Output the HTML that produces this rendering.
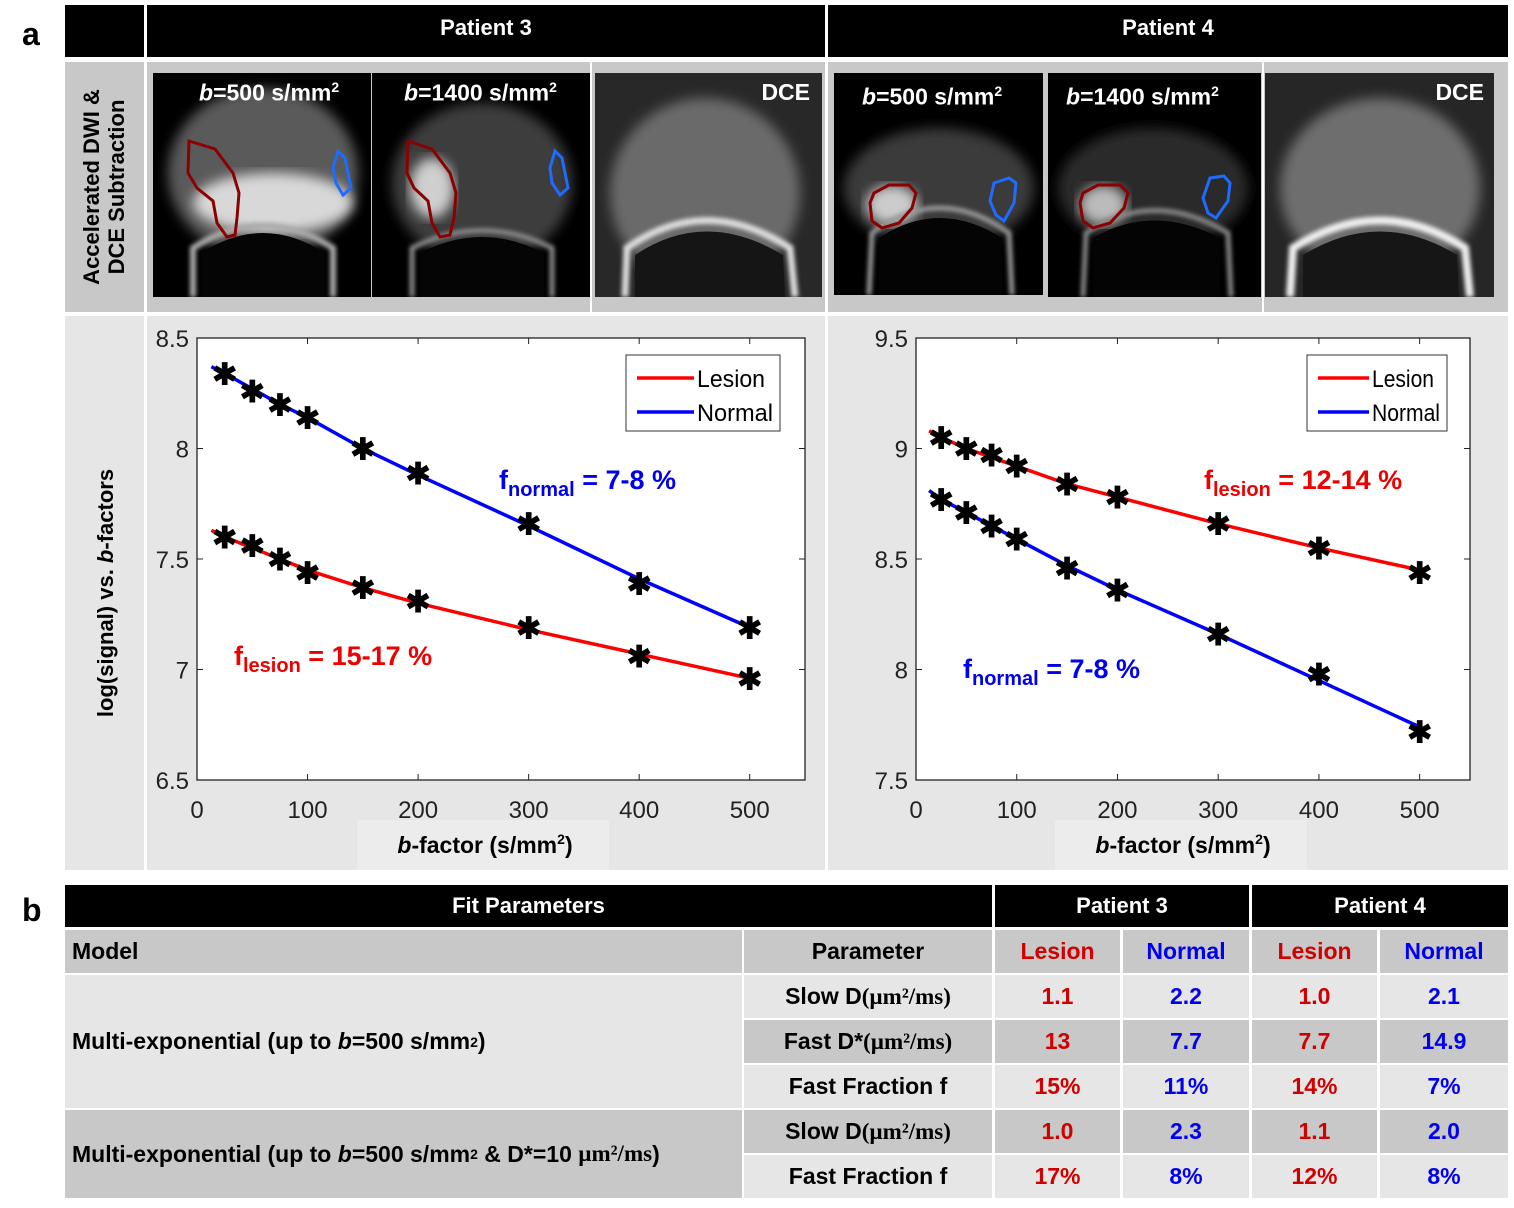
<!DOCTYPE html>
<html><head><meta charset="utf-8">
<style>
body{margin:0;width:1514px;height:1208px;background:#fff;position:relative;overflow:hidden;font-family:"Liberation Sans",sans-serif}
.a{position:absolute;box-sizing:border-box}
.blk{background:#000;color:#fff;font-weight:bold;font-size:22px;display:flex;align-items:center;justify-content:center}
.c{display:flex;align-items:center;justify-content:center;font-weight:bold;font-size:23px}
.l{display:flex;align-items:center;font-weight:bold;font-size:23px;padding-left:7px}
.g{background:#c8c8c8}.w{background:#e6e6e6}
.r{color:#d00000}.b{color:#0000ee}
.ser{font-family:"Liberation Serif",serif}
.img{background:#000;overflow:hidden}
.lab{position:absolute;color:#fff;font-weight:bold;font-size:23px;top:6px}
</style></head><body>
<div class="a" style="left:22px;top:16px;font-size:32px;font-weight:bold">a</div>
<div class="a" style="left:22px;top:892px;font-size:32px;font-weight:bold">b</div>

<div class="a blk" style="left:65px;top:5px;width:79px;height:52px"></div>
<div class="a blk" style="left:147px;top:5px;width:678px;height:52px;padding-bottom:6px">Patient 3</div>
<div class="a blk" style="left:828px;top:5px;width:680px;height:52px;padding-bottom:6px">Patient 4</div>

<div class="a g" style="left:65px;top:62px;width:79px;height:250px"></div>
<div class="a" style="left:104px;top:187px;width:260px;transform:translate(-50%,-50%) rotate(-90deg);text-align:center;font-weight:bold;font-size:22px;line-height:25px">Accelerated DWI &amp;<br>DCE Subtraction</div>
<div class="a g" style="left:147px;top:62px;width:443px;height:250px"></div>
<div class="a g" style="left:592px;top:62px;width:233px;height:250px"></div>
<div class="a g" style="left:828px;top:62px;width:434px;height:250px"></div>
<div class="a g" style="left:1264px;top:62px;width:244px;height:250px"></div>

<div class="a img" style="left:153px;top:73px;width:218px;height:224px">
<svg width="218" height="224"><defs><filter id="bl"><feGaussianBlur stdDeviation="6"/></filter><filter id="bl2"><feGaussianBlur stdDeviation="2"/></filter></defs>
<ellipse cx="110" cy="100" rx="95" ry="85" fill="#5a5a5a" filter="url(#bl)"/>
<ellipse cx="120" cy="130" rx="80" ry="30" fill="#d8d8d8" filter="url(#bl)"/>
<path d="M40,224 L40,175 Q110,130 180,175 L180,224" fill="none" stroke="#aaa" stroke-width="6" filter="url(#bl2)"/>
<path d="M48,224 L48,180 Q110,140 172,180 L172,224Z" fill="#050505"/>
<path d="M36,68 L62,76 L80,100 L86,120 L84,145 L82,162 L74,164 L64,150 L60,128 L44,115 L35,100Z" fill="none" stroke="#8b0000" stroke-width="3"/>
<path d="M185,78 L192,85 L195,100 L198,115 L190,122 L183,110 L180,95Z" fill="none" stroke="#1e6cff" stroke-width="3"/>
</svg><div class="lab" style="left:46px"><i>b</i>=500 s/mm<sup style="font-size:14px">2</sup></div></div>
<div class="a img" style="left:372px;top:73px;width:218px;height:224px">
<svg width="218" height="224">
<ellipse cx="110" cy="110" rx="90" ry="80" fill="#3d3d3d" filter="url(#bl)"/>
<ellipse cx="60" cy="115" rx="22" ry="30" fill="#cfcfcf" filter="url(#bl)"/>
<path d="M40,224 L40,175 Q110,140 180,175 L180,224" fill="none" stroke="#888" stroke-width="5" filter="url(#bl2)"/>
<path d="M48,224 L48,180 Q110,148 172,180 L172,224Z" fill="#050505"/>
<path d="M36,68 L60,76 L78,100 L84,120 L82,145 L78,162 L68,164 L60,150 L56,128 L42,115 L35,100Z" fill="none" stroke="#8b0000" stroke-width="3"/>
<path d="M183,78 L190,85 L193,100 L196,115 L188,122 L180,110 L178,95Z" fill="none" stroke="#1e6cff" stroke-width="3"/>
</svg><div class="lab" style="left:32px"><i>b</i>=1400 s/mm<sup style="font-size:14px">2</sup></div></div>
<div class="a img" style="left:595px;top:73px;width:227px;height:224px;background:#282828">
<svg width="227" height="224">
<ellipse cx="110" cy="120" rx="95" ry="95" fill="#6a6a6a" filter="url(#bl)"/>
<path d="M30,224 L32,175 Q110,120 195,175 L200,224" fill="none" stroke="#ddd" stroke-width="7" filter="url(#bl2)"/>
<path d="M40,224 L40,182 Q110,135 188,182 L190,224Z" fill="#151515"/>
</svg><div class="lab" style="right:12px">DCE</div></div>

<div class="a img" style="left:834px;top:73px;width:209px;height:222px">
<svg width="209" height="222">
<ellipse cx="105" cy="115" rx="95" ry="60" fill="#3a3a3a" filter="url(#bl)"/>
<ellipse cx="58" cy="132" rx="26" ry="20" fill="#ccc" filter="url(#bl)"/>
<path d="M35,222 L38,160 Q105,110 175,160 L178,222" fill="none" stroke="#999" stroke-width="5" filter="url(#bl2)"/>
<path d="M45,222 L45,165 Q105,125 168,165 L168,222Z" fill="#040404"/>
<path d="M40,120 L55,112 L75,112 L82,120 L78,135 L65,150 L48,155 L38,148 L36,130Z" fill="none" stroke="#8b0000" stroke-width="3"/>
<path d="M160,110 L175,105 L182,110 L180,130 L170,148 L162,142 L156,128Z" fill="none" stroke="#1e6cff" stroke-width="3"/>
</svg><div class="lab" style="left:28px;top:10px"><i>b</i>=500 s/mm<sup style="font-size:14px">2</sup></div></div>
<div class="a img" style="left:1048px;top:73px;width:213px;height:224px">
<svg width="213" height="224">
<ellipse cx="105" cy="115" rx="95" ry="60" fill="#2a2a2a" filter="url(#bl)"/>
<ellipse cx="55" cy="132" rx="24" ry="20" fill="#bbb" filter="url(#bl)"/>
<path d="M35,224 L38,160 Q105,115 180,160 L183,224" fill="none" stroke="#888" stroke-width="5" filter="url(#bl2)"/>
<path d="M45,224 L45,165 Q105,130 172,165 L172,224Z" fill="#040404"/>
<path d="M35,120 L50,112 L72,112 L80,120 L76,135 L62,150 L45,155 L35,148 L32,130Z" fill="none" stroke="#8b0000" stroke-width="3"/>
<path d="M162,105 L176,103 L182,110 L180,128 L168,145 L160,140 L155,125Z" fill="none" stroke="#1e6cff" stroke-width="3"/>
</svg><div class="lab" style="left:18px;top:10px"><i>b</i>=1400 s/mm<sup style="font-size:14px">2</sup></div></div>
<div class="a img" style="left:1265px;top:73px;width:229px;height:224px;background:#262626">
<svg width="229" height="224">
<ellipse cx="115" cy="115" rx="100" ry="90" fill="#6e6e6e" filter="url(#bl)"/>
<path d="M25,224 L28,175 Q115,120 200,175 L205,224" fill="none" stroke="#eee" stroke-width="8" filter="url(#bl2)"/>
<path d="M38,224 L38,182 Q115,135 192,182 L194,224Z" fill="#161616"/>
</svg><div class="lab" style="right:10px">DCE</div></div>

<div class="a w" style="left:65px;top:316px;width:79px;height:554px"></div>
<div class="a w" style="left:147px;top:316px;width:678px;height:554px"></div>
<div class="a w" style="left:828px;top:316px;width:680px;height:554px"></div>
<div class="a" style="left:106px;top:593px;width:320px;transform:translate(-50%,-50%) rotate(-90deg);text-align:center;font-weight:bold;font-size:22px">log(signal) vs. <i>b</i>-factors</div>

<svg class="a" id="charts" style="left:0;top:0" width="1514" height="880"></svg>

<div class="a blk" style="left:65px;top:885px;width:927px;height:42px">Fit Parameters</div>
<div class="a blk" style="left:995px;top:885px;width:254px;height:42px">Patient 3</div>
<div class="a blk" style="left:1252px;top:885px;width:256px;height:42px">Patient 4</div>
<div id="tbl"></div>

<script>
const bValues=[25,50,75,100,150,200,300,400,500];
const p3Normal=[8.34,8.26,8.20,8.14,8.00,7.89,7.66,7.39,7.19];
const p3Lesion=[7.60,7.56,7.50,7.44,7.37,7.31,7.19,7.06,6.96];
const p3FitB=[13,25,50,75,100,150,200,300,400,500];
const p3FitNormal=[8.37,8.34,8.27,8.20,8.14,8.00,7.88,7.65,7.41,7.19];
const p3FitLesion=[7.63,7.60,7.55,7.50,7.45,7.37,7.30,7.18,7.07,6.96];
const p4Lesion=[9.05,9.00,8.97,8.92,8.84,8.78,8.66,8.55,8.44];
const p4Normal=[8.77,8.71,8.65,8.59,8.46,8.36,8.16,7.98,7.72];
const p4FitLesion=[9.08,9.05,9.00,8.96,8.92,8.84,8.78,8.66,8.55,8.45];
const p4FitNormal=[8.81,8.77,8.71,8.65,8.59,8.47,8.36,8.16,7.95,7.74];
const xTicks=[0,100,200,300,400,500];
const p3YTicks=[6.5,7,7.5,8,8.5];
const p4YTicks=[7.5,8,8.5,9,9.5];

const NS='http://www.w3.org/2000/svg';
const svg=document.getElementById('charts');
function mk(t,a,p){const e=document.createElementNS(NS,t);for(const k in a)e.setAttribute(k,a[k]);(p||svg).appendChild(e);return e;}

function chart(o){
  const g=mk('g',{});
  
  
  const X=v=>o.x0+(v-0)/550*(o.x1-o.x0);
  const Y=v=>o.y1-(v-o.ymin)/(o.ymax-o.ymin)*(o.y1-o.y0);
  const bg=mk('rect',{x:o.x0,y:o.y0,width:o.x1-o.x0,height:o.y1-o.y0,fill:'#fff',stroke:'#222','stroke-width':1.3},g);
  
  
  xTicks.forEach(t=>{
    mk('line',{x1:X(t),x2:X(t),y1:o.y1,y2:o.y1-6,stroke:'#222'},g);
    mk('line',{x1:X(t),x2:X(t),y1:o.y0,y2:o.y0+6,stroke:'#222'},g);
    const tx=mk('text',{x:X(t),y:o.y1+38,'text-anchor':'middle','font-size':24,fill:'#222'},g);
    tx.textContent=t;
    
    
  });
  o.yt.forEach(t=>{
    mk('line',{x1:o.x0,x2:o.x0+6,y1:Y(t),y2:Y(t),stroke:'#222'},g);
    mk('line',{x1:o.x1,x2:o.x1-6,y1:Y(t),y2:Y(t),stroke:'#222'},g);
    const tx=mk('text',{x:o.x0-8,y:Y(t)+9,'text-anchor':'end','font-size':24,fill:'#222'},g);
    tx.textContent=t;
    
    
  });
  o.series.forEach(s=>{
    const pl=mk('polyline',{points:p3FitB.map((b,i)=>X(b)+','+Y(s.fit[i])).join(' '),fill:'none',stroke:s.color,'stroke-width':3.5},g);
    
    
    bValues.forEach((b,i)=>{
      const m=mk('text',{x:X(b),y:Y(s.pts[i])+11,'text-anchor':'middle','font-size':30,'font-weight':'bold',fill:'#000'},g);
      m.textContent='✱';
      
      
    });
  });
  const lg=mk('g',{},g);
  
  
  mk('rect',{x:o.lx,y:o.y0+17,width:o.lw,height:76,fill:'#fff',stroke:'#333'},lg);
  [['Lesion','#ff0000'],['Normal','#0000ff']].forEach((e,i)=>{
    const yy=o.y0+40+i*34;
    mk('line',{x1:o.lx+11,x2:o.lx+o.ll,y1:yy,y2:yy,stroke:e[1],'stroke-width':3.5},lg);
    const t=mk('text',{x:o.lx+o.ll+3,y:yy+9,'font-size':24,fill:'#000',textLength:o.tl[i],lengthAdjust:'spacingAndGlyphs'},lg);
    t.textContent=e[0];
  });
  mk('rect',{x:o.tx-128,y:o.y1+40,width:252,height:50,fill:'#ececec'},g);
  const xt=mk('text',{x:o.tx,y:o.y1+73,'text-anchor':'middle','font-size':23,'font-weight':'bold'},g);
  xt.innerHTML='<tspan font-style="italic">b</tspan>-factor (s/mm<tspan font-size="14" dy="-9">2</tspan><tspan dy="9">)</tspan>';
  
  
  o.ann.forEach(a=>{
    const t=mk('text',{x:a.x,y:a.y,'font-size':27,'font-weight':'bold',fill:a.c},g);
    t.innerHTML='f<tspan font-size="20" dy="7">'+a.s+'</tspan><tspan dy="-7"> = '+a.v+'</tspan>';
    
    
  });
}
chart({name:'p3-chart',x0:197,x1:805,y0:338,y1:780,ymin:6.5,ymax:8.5,yt:p3YTicks,lx:626,lw:154,ll:68,tl:[68,76],tx:485,
  series:[{name:'normal',color:'#0000ff',pts:p3Normal,fit:p3FitNormal},{name:'lesion',color:'#ff0000',pts:p3Lesion,fit:p3FitLesion}],
  ann:[{x:499,y:489,c:'#0000ee',s:'normal',v:'7-8 %'},{x:234,y:665,c:'#ee0000',s:'lesion',v:'15-17 %'}]});
chart({name:'p4-chart',x0:916,x1:1470,y0:338,y1:780,ymin:7.5,ymax:9.5,yt:p4YTicks,lx:1307,lw:140,ll:62,tl:[62,68],tx:1183,
  series:[{name:'lesion',color:'#ff0000',pts:p4Lesion,fit:p4FitLesion},{name:'normal',color:'#0000ff',pts:p4Normal,fit:p4FitNormal}],
  ann:[{x:1204,y:489,c:'#ee0000',s:'lesion',v:'12-14 %'},{x:963,y:678,c:'#0000ee',s:'normal',v:'7-8 %'}]});

const tbl=document.getElementById('tbl');
const cols=[[995,125],[1123,126],[1252,125],[1380,128]];
const rowsY=[975,1020,1065,1110,1155];
const paramNames=['Slow D <span class="ser">(µm²/ms)</span>','Fast D* <span class="ser">(µm²/ms)</span>','Fast Fraction f','Slow D <span class="ser">(µm²/ms)</span>','Fast Fraction f'];
const rowShade=['w','g','w','g','w'];
const values=[['1.1','2.2','1.0','2.1'],['13','7.7','7.7','14.9'],['15%','11%','14%','7%'],['1.0','2.3','1.1','2.0'],['17%','8%','12%','8%']];
function cell(x,y,w,h,cls,html,name){
  const d=document.createElement('div');
  d.className='a '+cls;
  d.style.cssText=`left:${x}px;top:${y}px;width:${w}px;height:${h}px`;
  d.innerHTML=html;
  
  
  tbl.appendChild(d);
}
cell(65,930,677,43,'g l','Model','model-header');
cell(744,930,248,43,'g c','Parameter','parameter-header');
['Lesion','Normal','Lesion','Normal'].forEach((t,i)=>cell(cols[i][0],930,cols[i][1],43,'g c '+(i%2?'b':'r'),t,'col-header-'+t.toLowerCase()));
cell(65,975,677,133,'w l','Multi-exponential (up to&nbsp;<i>b</i>=500 s/mm<sup style="font-size:14px">2</sup>)','model-1');
cell(65,1110,677,88,'g l','Multi-exponential (up to&nbsp;<i>b</i>=500 s/mm<sup style="font-size:14px">2</sup>&nbsp;&amp; D*=10&nbsp;<span class="ser">µm²/ms</span>)','model-2');
rowsY.forEach((y,r)=>{
  cell(744,y,248,43,rowShade[r]+' c',paramNames[r],'parameter-row-'+r);
  values[r].forEach((v,i)=>cell(cols[i][0],y,cols[i][1],43,rowShade[r]+' c '+(i%2?'b':'r'),v,'value-r'+r+'-c'+i));
});
</script>
</body></html>
